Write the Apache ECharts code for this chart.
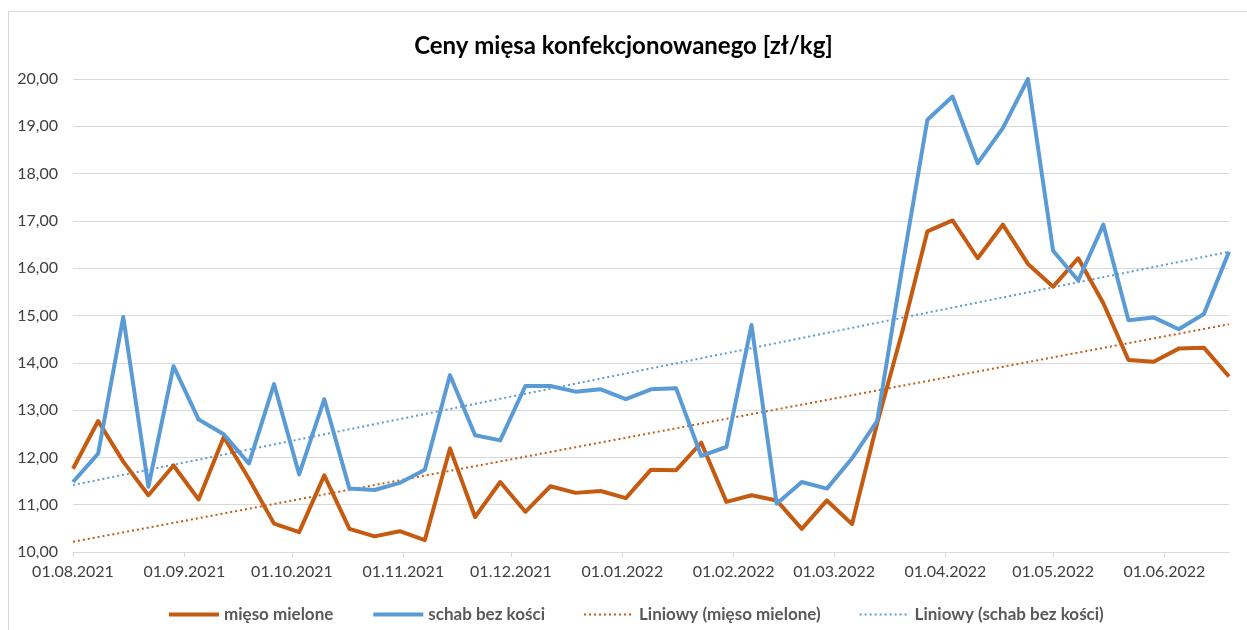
<!DOCTYPE html>
<html>
<head>
<meta charset="utf-8">
<title>Ceny mięsa konfekcjonowanego</title>
<script src="https://cdn.jsdelivr.net/npm/echarts@6/dist/echarts.min.js"></script>
<style>
  html, body { margin: 0; padding: 0; background: #fff; }
  #chart { width: 1247px; height: 630px; }
</style>
</head>
<body>
<div id="chart"></div>
<script>
// tygodniowe notowania
var dates = [
  '2021-08-01', '2021-08-08', '2021-08-15', '2021-08-22', '2021-08-29',
  '2021-09-05', '2021-09-12', '2021-09-19', '2021-09-26',
  '2021-10-03', '2021-10-10', '2021-10-17', '2021-10-24', '2021-10-31',
  '2021-11-07', '2021-11-14', '2021-11-21', '2021-11-28',
  '2021-12-05', '2021-12-12', '2021-12-19', '2021-12-26',
  '2022-01-02', '2022-01-09', '2022-01-16', '2022-01-23', '2022-01-30',
  '2022-02-06', '2022-02-13', '2022-02-20', '2022-02-27',
  '2022-03-06', '2022-03-13', '2022-03-20', '2022-03-27',
  '2022-04-03', '2022-04-10', '2022-04-17', '2022-04-24',
  '2022-05-01', '2022-05-08', '2022-05-15', '2022-05-22', '2022-05-29',
  '2022-06-05', '2022-06-12', '2022-06-19'
];

var miesoMielone = [
  11.76, 12.77, 11.91, 11.20, 11.83, 11.11, 12.43, 11.55, 10.60, 10.42,
  11.62, 10.49, 10.33, 10.44, 10.25, 12.19, 10.74, 11.48, 10.85, 11.39,
  11.25, 11.29, 11.14, 11.74, 11.73, 12.31, 11.06, 11.20, 11.09, 10.49,
  11.09, 10.59, 12.72, 14.66, 16.78, 17.01, 16.21, 16.92, 16.09, 15.61,
  16.21, 15.26, 14.06, 14.02, 14.30, 14.32, 13.71
];

var schabBezKosci = [
  11.48, 12.08, 14.97, 11.38, 13.93, 12.80, 12.49, 11.87, 13.55, 11.64,
  13.23, 11.34, 11.31, 11.46, 11.74, 13.74, 12.47, 12.36, 13.51, 13.51,
  13.39, 13.44, 13.23, 13.44, 13.46, 12.03, 12.22, 14.80, 11.02, 11.48,
  11.34, 11.98, 12.77, 16.03, 19.14, 19.63, 18.22, 18.96, 20.00, 16.37,
  15.74, 16.92, 14.90, 14.96, 14.71, 15.03, 16.35
];

// podpisy osi X
var monthTicks = [
  '2021-08-01', '2021-09-01', '2021-10-01', '2021-11-01', '2021-12-01',
  '2022-01-01', '2022-02-01', '2022-03-01', '2022-04-01', '2022-05-01',
  '2022-06-01'
];

function toTime(s) {
  var p = s.split('-');
  return new Date(+p[0], +p[1] - 1, +p[2]).getTime();
}

function pad(n) { return n < 10 ? '0' + n : '' + n; }

function fmtDate(v) {
  var d = new Date(v);
  return pad(d.getDate()) + '.' + pad(d.getMonth() + 1) + '.' + d.getFullYear();
}

function pairs(values) {
  return values.map(function (v, i) { return [toTime(dates[i]), v]; });
}

// linia trendu (regresja liniowa jak w Excelu)
function trend(values) {
  var xs = dates.map(toTime);
  var n = xs.length, sx = 0, sy = 0, sxx = 0, sxy = 0;
  for (var i = 0; i < n; i++) {
    sx += xs[i]; sy += values[i];
  }
  var mx = sx / n, my = sy / n;
  for (var j = 0; j < n; j++) {
    sxx += (xs[j] - mx) * (xs[j] - mx);
    sxy += (xs[j] - mx) * (values[j] - my);
  }
  var b = sxy / sxx, a = my - b * mx;
  return [[xs[0], a + b * xs[0]], [xs[n - 1], a + b * xs[n - 1]]];
}

var font = 'Lato, "Open Sans", sans-serif';
var orange = '#C55A11';
var blue = '#5B9BD5';

var myChart = echarts.init(document.getElementById('chart'), null, { renderer: 'canvas' });

var option = {
  animation: false,
  backgroundColor: '#fff',
  title: {
    text: 'Ceny mięsa konfekcjonowanego [zł/kg]',
    left: 'center',
    top: 29,
    textStyle: { fontFamily: font, fontSize: 24, fontWeight: 'bold', color: '#000' }
  },
  graphic: [{
    type: 'rect',
    shape: { x: 8.5, y: 11.5, width: 1260, height: 640 },
    style: { fill: 'none', stroke: '#d9d9d9', lineWidth: 1 },
    silent: true
  }],
  legend: {
    left: 162,
    top: 601,
    itemWidth: 50,
    itemHeight: 14,
    itemGap: 38,
    textStyle: { fontFamily: font, fontSize: 17, fontWeight: 'bold', color: '#595959' },
    data: [
      { name: 'mięso mielone', itemStyle: { opacity: 0 }, lineStyle: { width: 4 } },
      { name: 'schab bez kości', itemStyle: { opacity: 0 }, lineStyle: { width: 4 } },
      { name: 'Liniowy (mięso mielone)', itemStyle: { opacity: 0 }, lineStyle: { width: 2 } },
      { name: 'Liniowy (schab bez kości)', itemStyle: { opacity: 0 }, lineStyle: { width: 2 } }
    ]
  },
  grid: { left: 73, right: 18, top: 79, bottom: 78 },
  xAxis: {
    type: 'value',
    min: toTime(dates[0]),
    max: toTime(dates[dates.length - 1]),
    axisLine: { lineStyle: { color: '#d9d9d9', width: 1 } },
    axisTick: {
      length: 5,
      lineStyle: { color: '#d9d9d9' },
      customValues: monthTicks.map(toTime)
    },
    axisLabel: {
      customValues: monthTicks.map(toTime),
      formatter: fmtDate,
      fontFamily: font,
      fontSize: 16,
      color: '#404040',
      margin: 12,
      hideOverlap: false
    },
    splitLine: { show: false }
  },
  yAxis: {
    type: 'value',
    min: 10,
    max: 20,
    interval: 1,
    axisLine: { show: false },
    axisTick: { show: false },
    axisLabel: {
      formatter: function (v) { return v.toFixed(2).replace('.', ','); },
      fontFamily: font,
      fontSize: 16,
      color: '#404040',
      margin: 15
    },
    splitLine: { lineStyle: { color: '#d9d9d9', width: 1 } }
  },
  series: [
    {
      name: 'mięso mielone',
      type: 'line',
      data: pairs(miesoMielone),
      symbol: 'none',
      color: orange,
      lineStyle: { color: orange, width: 4, join: 'round' },
      z: 3
    },
    {
      name: 'schab bez kości',
      type: 'line',
      data: pairs(schabBezKosci),
      symbol: 'none',
      color: blue,
      lineStyle: { color: blue, width: 4, join: 'round' },
      z: 4
    },
    {
      name: 'Liniowy (mięso mielone)',
      type: 'line',
      data: trend(miesoMielone),
      symbol: 'none',
      color: orange,
      lineStyle: { color: orange, width: 2, type: [2, 3] },
      z: 2
    },
    {
      name: 'Liniowy (schab bez kości)',
      type: 'line',
      data: trend(schabBezKosci),
      symbol: 'none',
      color: blue,
      lineStyle: { color: blue, width: 2, type: [2, 3] },
      z: 2
    }
  ]
};

myChart.setOption(option);
</script>
</body>
</html>
